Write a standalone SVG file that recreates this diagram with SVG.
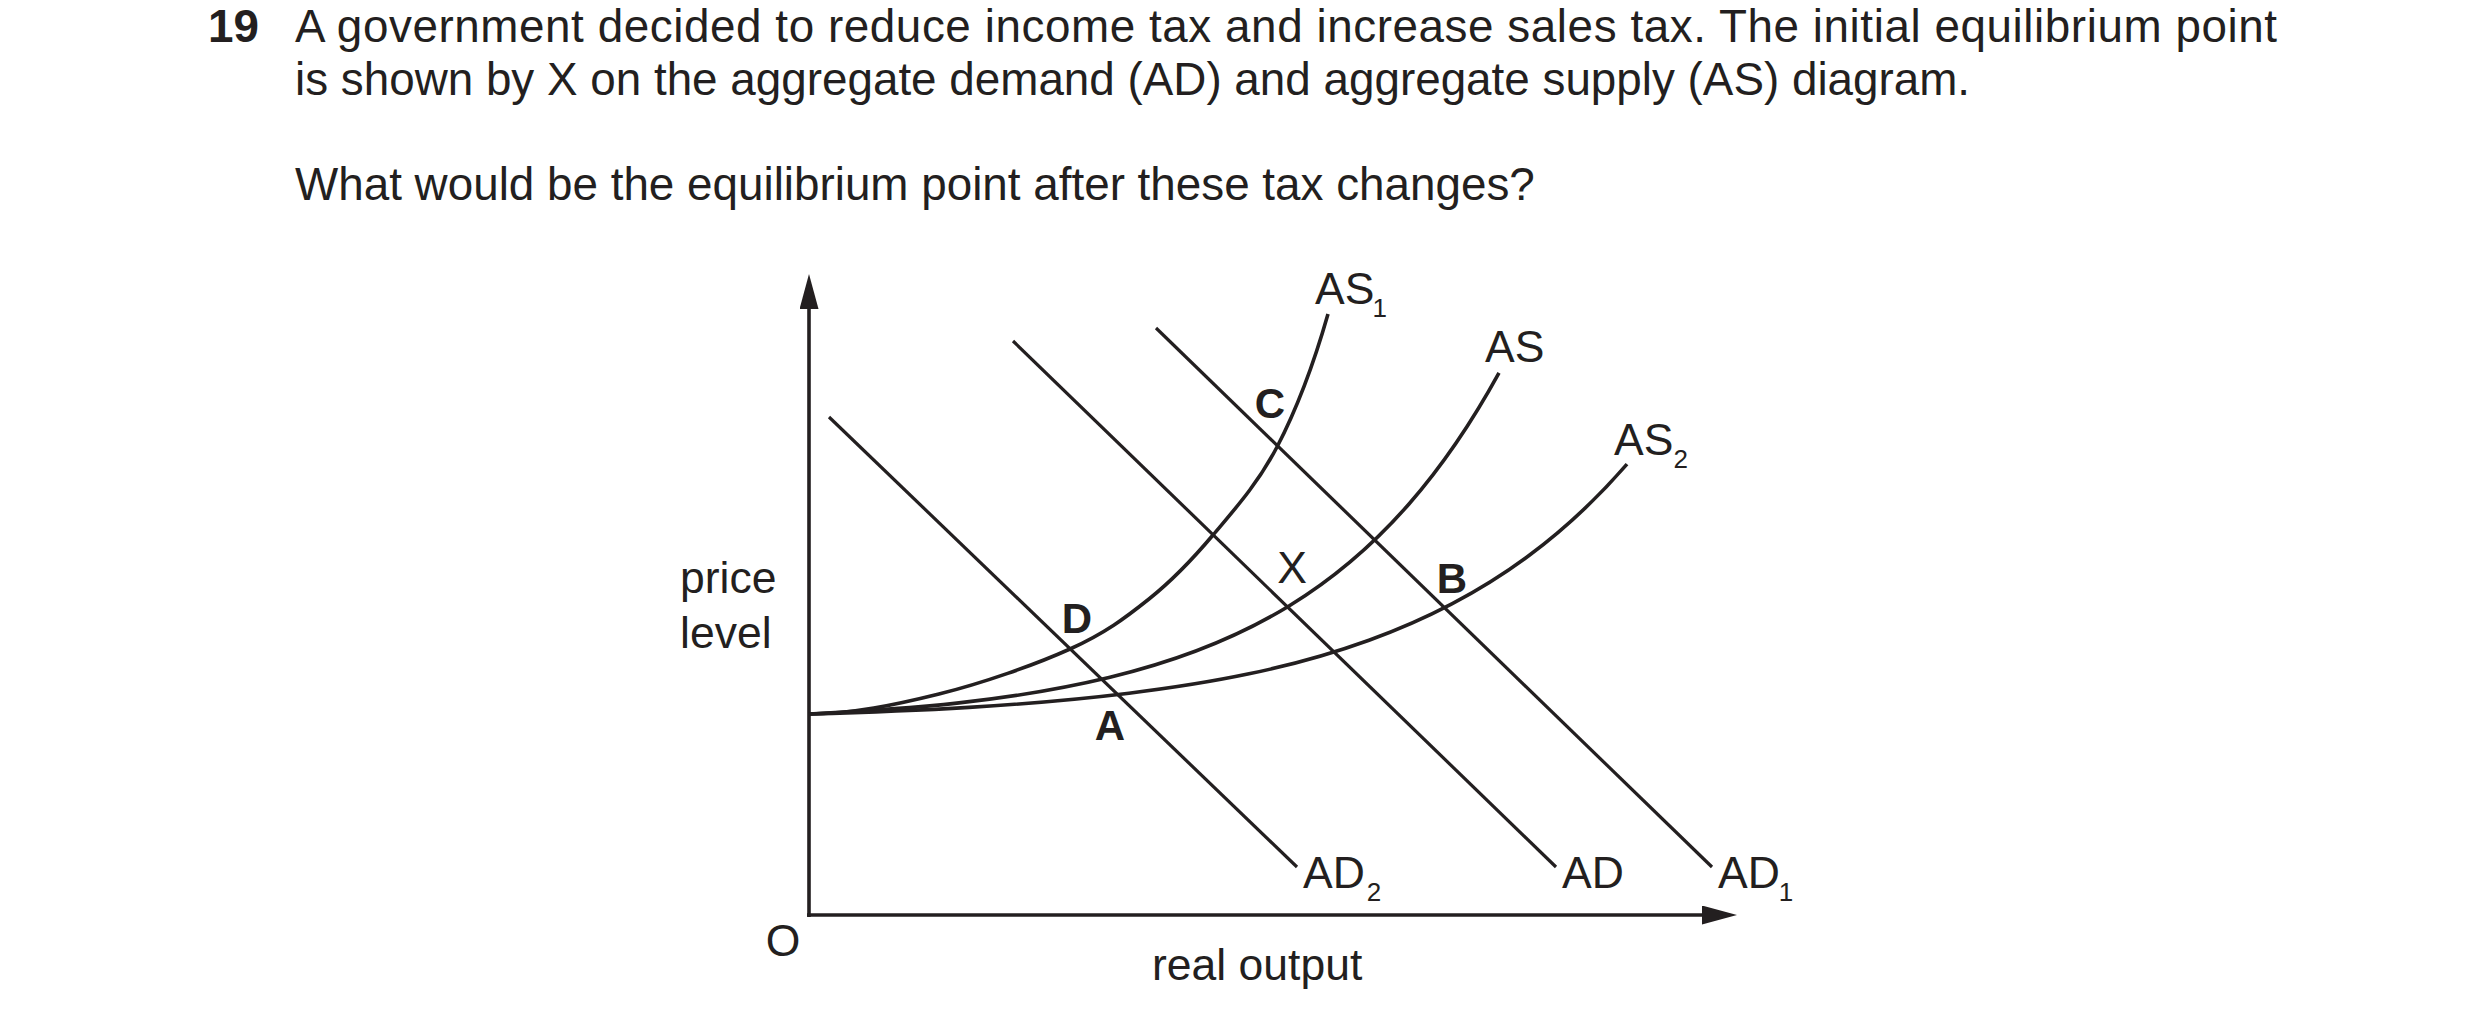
<svg xmlns="http://www.w3.org/2000/svg" width="2480" height="1028" viewBox="0 0 2480 1028">
<style>
  text { font-family: "Liberation Sans", Arial, sans-serif; fill: #231f20; }
  .q { font-size: 45.8px; }
  .lbl { font-size: 44.5px; }
  .pt { font-size: 42px; font-weight: bold; text-anchor: middle; }
  .sub { font-size: 26px; }
  .ad { fill: none; stroke: #231f20; stroke-width: 3.2; }
  .as { fill: none; stroke: #231f20; stroke-width: 3.6; stroke-linejoin: round; }
  .axis { fill: none; stroke: #231f20; stroke-width: 3.6; }
</style>
<defs>
  <marker id="arrow" markerUnits="userSpaceOnUse" markerWidth="36" markerHeight="20" refX="0" refY="9.5" orient="auto">
    <path d="M0,0 L35,9.5 L0,19 z" fill="#231f20"/>
  </marker>
</defs>
<rect width="2480" height="1028" fill="#ffffff"/>

<g id="question">
  <text class="q" x="208" y="42" font-weight="bold">19</text>
  <text class="q" x="295" y="42" textLength="1982" lengthAdjust="spacing">A government decided to reduce income tax and increase sales tax. The initial equilibrium point</text>
  <text class="q" x="295" y="95">is shown by X on the aggregate demand (AD) and aggregate supply (AS) diagram.</text>
  <text class="q" x="295" y="200">What would be the equilibrium point after these tax changes?</text>
</g>

<g id="axes">
  <line class="axis" x1="809" y1="917" x2="809" y2="309" marker-end="url(#arrow)"/>
  <line class="axis" x1="807" y1="915" x2="1702" y2="915" marker-end="url(#arrow)"/>
  <text class="lbl" x="680" y="593">price</text>
  <text class="lbl" x="680" y="648">level</text>
  <text class="lbl" x="783" y="956" text-anchor="middle">O</text>
  <text class="lbl" x="1152" y="980">real output</text>
</g>

<g id="connectors">
  <g id="AD2-line"><line class="ad" x1="829" y1="417" x2="1297" y2="867"/></g>
  <g id="AD-line"><line class="ad" x1="1013" y1="341" x2="1556" y2="867"/></g>
  <g id="AD1-line"><line class="ad" x1="1156" y1="328" x2="1712" y2="867"/></g>
  <g id="AS1-curve"><path class="as" d="M809,714 C852,714 895.5,704.8 939,694 C982.5,683.2 1035,664.8 1070,649 C1105,633.2 1125.2,618 1149,599 C1172.8,580 1191.7,560.3 1213,535 C1234.3,509.7 1257.8,483.8 1277,447 C1296.2,410.2 1314,363 1328,314"/></g>
  <g id="AS-curve"><path class="as" d="M809,714 C909,709 1009,701.5 1109,677.5 C1169,663.1 1229,642.7 1289,606 C1329,581.5 1369,549.7 1409,504 C1439,469.7 1469,427.6 1499,372.9"/></g>
  <g id="AS2-curve"><path class="as" d="M809,714 C915.7,710.9 1022.3,706.3 1129,693.2 C1209,683.4 1289,669.1 1369,640.2 C1422.3,620.9 1475.7,595.1 1529,555.5 C1561.7,531.3 1594.3,501.8 1627,464.1"/></g>
</g>

<g id="curve-labels">
  <g id="AS1"><text class="lbl" x="1315" y="304">AS<tspan class="sub" dx="-2" dy="13">1</tspan></text></g>
  <g id="AS"><text class="lbl" x="1485" y="362">AS</text></g>
  <g id="AS2"><text class="lbl" x="1614" y="455">AS<tspan class="sub" dx="0" dy="13">2</tspan></text></g>
  <g id="AD2"><text class="lbl" x="1303" y="888">AD<tspan class="sub" dx="2" dy="13">2</tspan></text></g>
  <g id="AD"><text class="lbl" x="1562" y="888">AD</text></g>
  <g id="AD1"><text class="lbl" x="1718" y="888">AD<tspan class="sub" dx="-1" dy="13">1</tspan></text></g>
</g>

<g id="points">
  <g id="C"><text class="pt" x="1270" y="418">C</text></g>
  <g id="X"><text class="lbl" x="1292" y="583" text-anchor="middle">X</text></g>
  <g id="B"><text class="pt" x="1452" y="593">B</text></g>
  <g id="D"><text class="pt" x="1077" y="633">D</text></g>
  <g id="A"><text class="pt" x="1110" y="740">A</text></g>
</g>
</svg>
